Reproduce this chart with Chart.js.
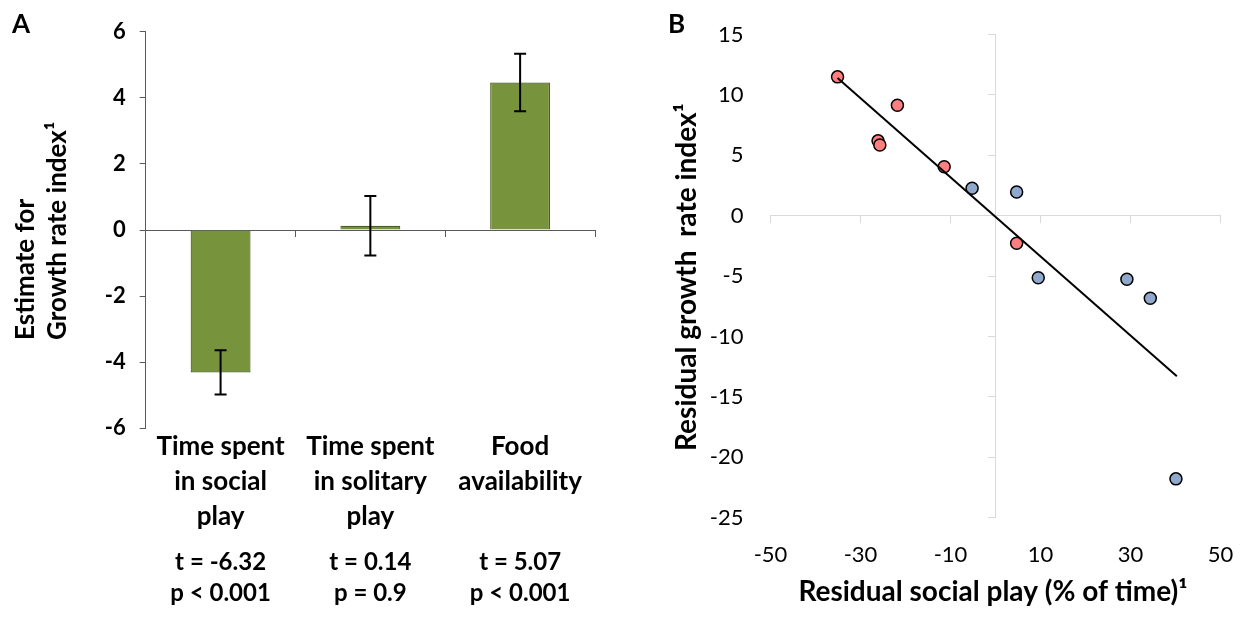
<!DOCTYPE html>
<html>
<head>
<meta charset="utf-8">
<script src="https://cdn.jsdelivr.net/npm/chart.js@4.4.1/dist/chart.umd.min.js"></script>
<style>
  html, body { margin: 0; padding: 0; background: #fff; width: 1243px; height: 622px; overflow: hidden; }
  canvas { position: absolute; top: 0; }
  #panelA { left: 0; }
  #panelB { left: 640px; }
</style>
</head>
<body>
<canvas id="panelA" width="640" height="622"></canvas>
<canvas id="panelB" width="603" height="622"></canvas>
<script>
// ---- Panel A: model estimates for the growth rate index ----
const predictors = [
  ['Time spent', 'in social', 'play'],
  ['Time spent', 'in solitary', 'play'],
  ['Food', 'availability']
];
const estimates = [-4.31, 0.13, 4.46];
const standardErrors = [0.67, 0.90, 0.87];
const tValues = ['t = -6.32', 't = 0.14', 't = 5.07'];
const pValues = ['p < 0.001', 'p = 0.9', 'p < 0.001'];
const estimateTicks = [-6, -4, -2, 0, 2, 4, 6];

// ---- Panel B: residual growth vs residual social play ----
const highGrowthGroup = [
  { x: -35.1, y: 11.5 }, { x: -21.8, y: 9.15 }, { x: -26.1, y: 6.2 },
  { x: -25.7, y: 5.85 }, { x: -11.4, y: 4.06 }, { x: 4.7, y: -2.29 }
];
const lowGrowthGroup = [
  { x: -5.2, y: 2.27 }, { x: 4.7, y: 1.96 }, { x: 9.5, y: -5.14 },
  { x: 29.2, y: -5.27 }, { x: 34.4, y: -6.84 }, { x: 40.1, y: -21.8 }
];
const fitLine = [{ x: -35.1, y: 11.4 }, { x: 40.3, y: -13.3 }];
const playTicks = [-50, -30, -10, 10, 30, 50];
const growthTicks = [-25, -20, -15, -10, -5, 0, 5, 10, 15];

const FAMILY = 'Lato, "Open Sans", sans-serif';
const useTicks = list => scale => { scale.ticks = list.map(v => ({ value: v })); };
const noHeight = s => { s.height = 0; };

// Free text (panel letters, axis titles)
const panelText = {
  id: 'panelText',
  afterDraw(chart, args, opts) {
    const ctx = chart.ctx;
    (opts.items || []).forEach(it => {
      ctx.save();
      ctx.font = it.font;
      ctx.fillStyle = '#000';
      ctx.textAlign = it.align || 'left';
      ctx.textBaseline = 'alphabetic';
      ctx.translate(it.x, it.y);
      if (it.rotate) ctx.rotate(-Math.PI / 2);
      ctx.fillText(it.text, 0, 0);
      ctx.restore();
    });
  }
};

// Error bars (± SE) drawn on the bar scales
const errorBars = {
  id: 'errorBars',
  afterDatasetsDraw(chart) {
    const { ctx, scales: { x, y } } = chart;
    ctx.save();
    ctx.strokeStyle = '#000';
    ctx.lineWidth = 2;
    estimates.forEach((v, i) => {
      const px = x.getPixelForValue(i);
      const hi = y.getPixelForValue(v + standardErrors[i]);
      const lo = y.getPixelForValue(v - standardErrors[i]);
      ctx.beginPath();
      ctx.moveTo(px, hi); ctx.lineTo(px, lo);
      ctx.moveTo(px - 6, hi); ctx.lineTo(px + 6, hi);
      ctx.moveTo(px - 6, lo); ctx.lineTo(px + 6, lo);
      ctx.stroke();
    });
    ctx.restore();
  }
};

// t / p statistics under each predictor
const statLines = {
  id: 'statLines',
  afterDraw(chart) {
    const { ctx, scales: { x } } = chart;
    ctx.save();
    ctx.font = 'bold 24px ' + FAMILY;
    ctx.fillStyle = '#000';
    ctx.textAlign = 'center';
    ctx.textBaseline = 'middle';
    tValues.forEach((t, i) => {
      const px = x.getPixelForValue(i);
      ctx.fillText(t, px, 562);
      ctx.fillText(pValues[i], px, 593);
    });
    ctx.restore();
  }
};

new Chart(document.getElementById('panelA'), {
  type: 'bar',
  data: {
    labels: predictors,
    datasets: [{
      data: estimates,
      backgroundColor: '#77933c',
      borderColor: '#4a5e25',
      borderWidth: 1.2,
      barPercentage: 0.4,
      categoryPercentage: 1
    }]
  },
  options: {
    responsive: false,
    animation: false,
    devicePixelRatio: 1,
    layout: { padding: { left: 0, top: 31.7, right: 45, bottom: 0 } },
    plugins: {
      legend: { display: false },
      tooltip: { enabled: false },
      panelText: {
        items: [
          { text: 'A', x: 12, y: 33, font: 'bold 26px ' + FAMILY },
          { text: 'Estimate for', x: 34, y: 340, rotate: true, font: 'bold 26px ' + FAMILY },
          { text: 'Growth rate index\u00B9', x: 66, y: 340, rotate: true, font: 'bold 26px ' + FAMILY }
        ]
      }
    },
    scales: {
      x: {
        position: 'bottom',
        offset: true,
        grid: { display: false, drawTicks: false },
        border: { display: false },
        ticks: {
          color: '#000',
          font: { family: FAMILY, size: 26, weight: 'bold', lineHeight: 1.346 },
          padding: 1,
          maxRotation: 0,
          autoSkip: false
        },
        afterFit: s => { s.height = 193.7; s.paddingLeft = 0; s.paddingRight = 0; }
      },
      xAxisLine: {
        type: 'category',
        axis: 'x',
        position: { y: 0 },
        offset: true,
        grid: { offset: true, drawOnChartArea: false, drawTicks: true, tickLength: 6, color: '#595959' },
        border: { color: '#595959', width: 1 },
        ticks: { display: false },
        afterFit: noHeight
      },
      y: {
        min: -6,
        max: 6,
        afterBuildTicks: useTicks(estimateTicks),
        grid: { drawOnChartArea: false, drawTicks: true, tickLength: 6, color: '#595959' },
        border: { color: '#595959', width: 1 },
        ticks: { color: '#000', font: { family: FAMILY, size: 22, weight: 'bold' }, padding: 14 },
        afterFit: s => { s.width = 145.7; s.paddingTop = 0; s.paddingBottom = 0; }
      }
    }
  },
  plugins: [errorBars, statLines, panelText]
});

new Chart(document.getElementById('panelB'), {
  type: 'scatter',
  data: {
    datasets: [
      {
        data: fitLine,
        showLine: true,
        borderColor: '#000',
        borderWidth: 2,
        pointRadius: 0,
        fill: false
      },
      {
        data: highGrowthGroup,
        backgroundColor: '#ff7f80',
        borderColor: '#000',
        borderWidth: 1.5,
        pointRadius: 6
      },
      {
        data: lowGrowthGroup,
        backgroundColor: '#8fa8cb',
        borderColor: '#000',
        borderWidth: 1.5,
        pointRadius: 6
      }
    ]
  },
  options: {
    responsive: false,
    animation: false,
    devicePixelRatio: 1,
    layout: { padding: { left: 0, top: 34.6, right: 22.5, bottom: 0 } },
    plugins: {
      legend: { display: false },
      tooltip: { enabled: false },
      panelText: {
        items: [
          { text: 'B', x: 28, y: 33, font: 'bold 26px ' + FAMILY },
          { text: 'Residual growth  rate index\u00B9', x: 56, y: 277, rotate: true, align: 'center', font: 'bold 28px ' + FAMILY },
          { text: 'Residual social play (% of time)\u00B9', x: 353, y: 601, align: 'center', font: 'bold 28px ' + FAMILY }
        ]
      }
    },
    scales: {
      x: {
        type: 'linear',
        min: -50,
        max: 50,
        afterBuildTicks: useTicks(playTicks),
        grid: { display: false, drawTicks: false },
        border: { display: false },
        ticks: { color: '#000', font: { family: FAMILY, size: 22 }, padding: 24 },
        afterFit: s => { s.height = 104.5; s.paddingLeft = 0; s.paddingRight = 0; }
      },
      y: {
        type: 'linear',
        min: -25,
        max: 15,
        afterBuildTicks: useTicks(growthTicks),
        grid: { display: false, drawTicks: false },
        border: { display: false },
        ticks: { color: '#000', font: { family: FAMILY, size: 22 }, padding: 27 },
        afterFit: s => { s.width = 130.5; s.paddingTop = 0; s.paddingBottom = 0; }
      },
      xZero: {
        type: 'linear',
        axis: 'x',
        position: { y: 0 },
        min: -50,
        max: 50,
        afterBuildTicks: useTicks(playTicks),
        grid: { drawOnChartArea: false, drawTicks: true, tickLength: 7, color: '#d9d9d9' },
        border: { color: '#d9d9d9', width: 1 },
        ticks: { display: false },
        afterFit: s => { s.height = 0; s.paddingLeft = 0; s.paddingRight = 0; }
      },
      yZero: {
        type: 'linear',
        axis: 'y',
        position: { x: 0 },
        min: -25,
        max: 15,
        afterBuildTicks: useTicks(growthTicks),
        grid: { drawOnChartArea: false, drawTicks: true, tickLength: 7, color: '#d9d9d9' },
        border: { color: '#d9d9d9', width: 1 },
        ticks: { display: false },
        afterFit: s => { s.width = 0; s.paddingTop = 0; s.paddingBottom = 0; }
      }
    }
  },
  plugins: [panelText]
});
</script>
</body>
</html>
